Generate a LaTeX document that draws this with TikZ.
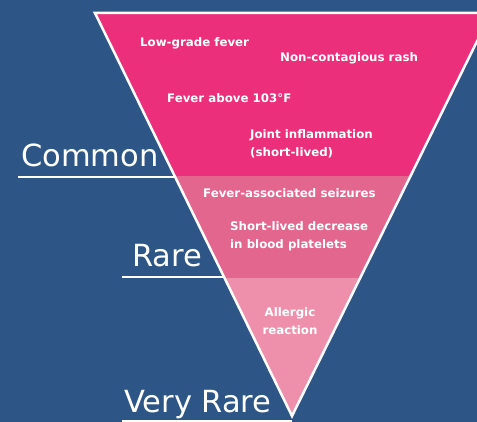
\documentclass[tikz,border=0pt]{standalone}
\usepackage{fontspec}
\setmainfont{DejaVu Sans}
\usetikzlibrary{calc}
\definecolor{bgblue}{HTML}{2D5686}
\definecolor{bandA}{HTML}{EC2F7B}
\definecolor{bandB}{HTML}{E3668F}
\definecolor{bandC}{HTML}{EE90AB}
\tikzset{
  level/.style={text=white, font=\fontsize{30.5}{30}\selectfont, anchor=base west, inner sep=0pt},
  item/.style={text=white, font=\bfseries\fontsize{11.8}{17.5}\selectfont, anchor=west, inner sep=0pt, align=left},
  itemc/.style={text=white, font=\bfseries\fontsize{11.8}{17.5}\selectfont, inner sep=0pt, align=center},
  uline/.style={white, line width=2pt},
  edge/.style={white, line width=2.5pt, line join=miter}
}
\begin{document}
\begin{tikzpicture}[x=1pt,y=-1pt]
\useasboundingbox (0,0) rectangle (477,422);
\fill[bgblue] (0,0) rectangle (477,422);
\begin{scope}
\clip (0,0) rectangle (477,422);
\coordinate (TL) at (95,13);
\coordinate (TR) at (491,13);
\coordinate (AP) at (292,416);
\coordinate (L1) at ($(TL)!0.4045!(AP)$);
\coordinate (R1) at ($(TR)!0.4045!(AP)$);
\coordinate (L2) at ($(TL)!0.6576!(AP)$);
\coordinate (R2) at ($(TR)!0.6576!(AP)$);
\fill[bandA] (TL) -- (TR) -- (R1) -- (L1) -- cycle;
\fill[bandB] (L1) -- (R1) -- (R2) -- (L2) -- cycle;
\fill[bandC] (L2) -- (R2) -- (AP) -- cycle;
\draw[edge] (TL) -- (TR) -- (AP) -- cycle;
\end{scope}
% level labels
\node[level] (common) at (21,167) {Common};
\node[level] (rare) at (132,267) {Rare};
\node[level] (vrare) at (124,412) {Very Rare};
\coordinate (cu) at (18,177);
\coordinate (ru) at (122,277);
\coordinate (vu) at (122,421);
\draw[uline] (cu) -- (L1 |- cu);
\draw[uline] (ru) -- (L2 |- ru);
\draw[uline] (vu) -- (AP |- vu);
% items
\node[item] (a1) at (140,43) {Low-grade fever};
\node[item] (a2) at (280,58) {Non-contagious rash};
\node[item] (a3) at (167,98) {Fever above 103°F};
\node[item] (a4) at (250,144) {Joint inflammation\\(short-lived)};
\node[item] (b1) at (203,193) {Fever-associated seizures};
\node[item] (b2) at (230,236) {Short-lived decrease\\in blood platelets};
\node[itemc] (c1) at (290,321) {Allergic\\reaction};
\end{tikzpicture}
\end{document}
